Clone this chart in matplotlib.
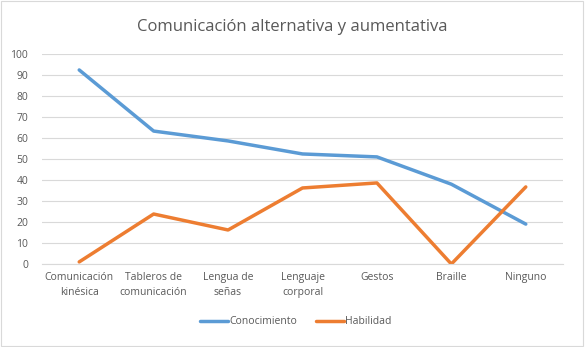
import matplotlib.pyplot as plt
from matplotlib.patches import Rectangle

categorias = ['Comunicación\nkinésica', 'Tableros de\ncomunicación', 'Lengua de\nseñas',
              'Lenguaje\ncorporal', 'Gestos', 'Braille', 'Ninguno']
conocimiento = [92.4, 63.3, 58.6, 52.4, 51.0, 38.0, 19.0]
habilidad = [1.0, 23.8, 16.2, 36.2, 38.6, 0.0, 36.7]

plt.rcParams['font.family'] = ['Open Sans', 'DejaVu Sans']

fig = plt.figure(figsize=(5.85, 3.47), dpi=100)
ax = fig.add_axes([42 / 585, 1 - 264 / 347, (563 - 42) / 585, 210 / 347])

x = range(len(categorias))
ax.plot(x, conocimiento, color='#5b9bd5', lw=2.5, label='Conocimiento', solid_capstyle='round')
ax.plot(x, habilidad, color='#ed7d31', lw=2.5, label='Habilidad', solid_capstyle='round')

ax.set_xlim(-0.5, len(categorias) - 0.5)
ax.set_ylim(0, 100)
ax.set_yticks(range(0, 101, 10))
ax.set_xticks(list(x))
ax.set_xticklabels(categorias, fontsize=7.5, color='#595959', linespacing=1.5)
ax.tick_params(axis='y', labelsize=7.5, labelcolor='#595959', length=0, pad=10)
ax.tick_params(axis='x', length=0, pad=6)
ax.grid(axis='y', color='#d9d9d9', lw=0.8)
ax.set_axisbelow(True)
for s in ['top', 'right', 'left']:
    ax.spines[s].set_visible(False)
ax.spines['bottom'].set_color('#d9d9d9')

# titulo
fig.text(0.5, 1 - 27 / 347, 'Comunicación alternativa y aumentativa',
         ha='center', va='center', fontsize=12, color='#595959')

fig.legend(loc='center', bbox_to_anchor=(0.505, 1 - 322 / 347), ncol=2, frameon=False,
           fontsize=7.5, labelcolor='#595959', handlelength=2.7, handletextpad=0.1,
           columnspacing=1.8)

fig.patches.append(Rectangle((0.002, 0.003), 0.994, 0.994, transform=fig.transFigure,
                             fill=False, edgecolor='#d9d9d9', lw=0.8))

fig.savefig('out.png', dpi=100)
